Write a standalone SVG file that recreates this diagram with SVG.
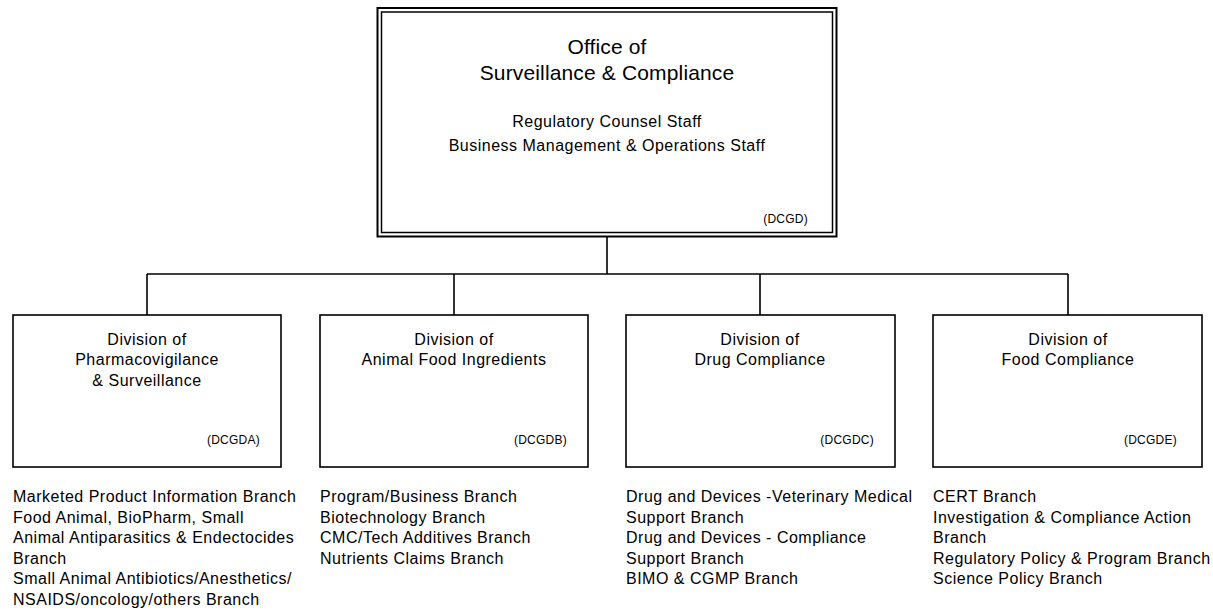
<svg xmlns="http://www.w3.org/2000/svg" width="1213" height="610" viewBox="0 0 1213 610">
<style>
text{font-family:"Liberation Sans",Arial,sans-serif;fill:#000}
.title{font-size:21px;letter-spacing:0.15px;text-anchor:middle}
.sub{font-size:16px;letter-spacing:0.5px;text-anchor:middle}
.div{font-size:16px;letter-spacing:0.5px;text-anchor:middle}
.code{font-size:12px;letter-spacing:0.25px;text-anchor:end}
.br{font-size:16px;letter-spacing:0.5px}
.box{fill:#fff;stroke:#000;stroke-width:1.6}
.conn{fill:none;stroke:#000;stroke-width:1.6}
</style>
<rect width="1213" height="610" fill="#fff"/>
<g id="connectors">
<path class="conn" d="M607 236V274M147 274H1068M147 274V315M454 274V315M760 274V315M1068 274V315"/>
</g>
<g id="office">
<rect x="377.5" y="8" width="459" height="228.5" fill="#fff" stroke="#000" stroke-width="2"/>
<rect x="381.5" y="12" width="451" height="220.5" fill="none" stroke="#000" stroke-width="1.5"/>
<text class="title" x="607" y="54">Office of</text>
<text class="title" x="607" y="80">Surveillance &amp; Compliance</text>
<text class="sub" x="607" y="127">Regulatory Counsel Staff</text>
<text class="sub" x="607" y="151">Business Management &amp; Operations Staff</text>
<text class="code" x="808" y="223">(DCGD)</text>
</g>
<g id="dcgda">
<rect class="box" x="13" y="315" width="268" height="152"/>
<text class="div" x="147" y="345">Division of</text>
<text class="div" x="147" y="365">Pharmacovigilance</text>
<text class="div" x="147" y="386">&amp; Surveillance</text>
<text class="code" x="260" y="444">(DCGDA)</text>
<text class="br" x="13" y="502">Marketed Product Information Branch</text>
<text class="br" x="13" y="523">Food Animal, BioPharm, Small</text>
<text class="br" x="13" y="543">Animal Antiparasitics &amp; Endectocides</text>
<text class="br" x="13" y="564">Branch</text>
<text class="br" x="13" y="584">Small Animal Antibiotics/Anesthetics/</text>
<text class="br" x="13" y="605">NSAIDS/oncology/others Branch</text>
</g>
<g id="dcgdb">
<rect class="box" x="320" y="315" width="268" height="152"/>
<text class="div" x="454" y="345">Division of</text>
<text class="div" x="454" y="365">Animal Food Ingredients</text>
<text class="code" x="567" y="444">(DCGDB)</text>
<text class="br" x="320" y="502">Program/Business Branch</text>
<text class="br" x="320" y="523">Biotechnology Branch</text>
<text class="br" x="320" y="543">CMC/Tech Additives Branch</text>
<text class="br" x="320" y="564">Nutrients Claims Branch</text>
</g>
<g id="dcgdc">
<rect class="box" x="626" y="315" width="269" height="152"/>
<text class="div" x="760" y="345">Division of</text>
<text class="div" x="760" y="365">Drug Compliance</text>
<text class="code" x="874" y="444">(DCGDC)</text>
<text class="br" x="626" y="502">Drug and Devices -Veterinary Medical</text>
<text class="br" x="626" y="523">Support Branch</text>
<text class="br" x="626" y="543">Drug and Devices - Compliance</text>
<text class="br" x="626" y="564">Support Branch</text>
<text class="br" x="626" y="584">BIMO &amp; CGMP Branch</text>
</g>
<g id="dcgde">
<rect class="box" x="933" y="315" width="269" height="152"/>
<text class="div" x="1068" y="345">Division of</text>
<text class="div" x="1068" y="365">Food Compliance</text>
<text class="code" x="1177" y="444">(DCGDE)</text>
<text class="br" x="933" y="502">CERT Branch</text>
<text class="br" x="933" y="523">Investigation &amp; Compliance Action</text>
<text class="br" x="933" y="543">Branch</text>
<text class="br" x="933" y="564">Regulatory Policy &amp; Program Branch</text>
<text class="br" x="933" y="584">Science Policy Branch</text>
</g>
</svg>
